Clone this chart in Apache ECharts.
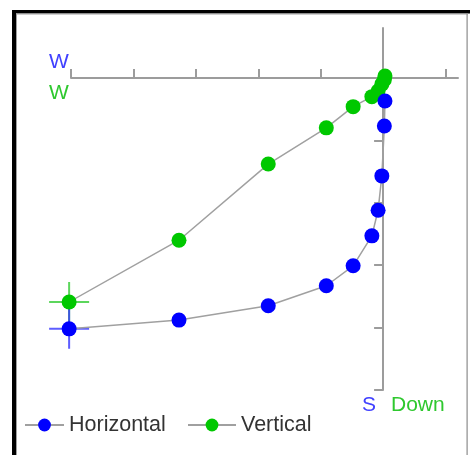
<!DOCTYPE html>
<html>
<head>
<meta charset="utf-8">
<script src="https://cdn.jsdelivr.net/npm/echarts@6/dist/echarts.min.js"></script>
<style>
  html, body { margin: 0; padding: 0; background: #fff; }
  #chart { width: 470px; height: 455px; }
</style>
</head>
<body>
<div id="chart"></div>
<script>
// Demagnetisation steps: shared east-west component, then N-S (horizontal) and up-down (vertical)
const stepEW = [-5.03, -3.27, -1.84, -0.91, -0.48, -0.18, -0.08, -0.02, 0.02, 0.03];
const horizontalNS = [-4.02, -3.88, -3.65, -3.33, -3.01, -2.53, -2.12, -1.57, -0.77, -0.37];
const verticalUD = [-3.59, -2.60, -1.38, -0.80, -0.46, -0.30, -0.21, -0.10, -0.03, 0.03];

// Axis ticks
const xTickValues = [-5, -4, -3, -2, -1, 1];
const yTickValues = [-5, -4, -3, -2, -1];

const seriesNames = ['Horizontal', 'Vertical'];

const BLUE = '#0000ff';
const GREEN = '#00c800';
const AXIS = '#9c9c9c';
const FONT = '"Liberation Sans", Arial, sans-serif';

const pairs = (xs, ys) => xs.map((x, i) => [x, ys[i]]);
const horizontalData = pairs(stepEW, horizontalNS);
const verticalData = pairs(stepEW, verticalUD);

// plus-sign marker used to flag the first step
const PLUS = 'path://M19,0 H21 V19 H40 V21 H21 V40 H19 V21 H0 V19 H19 Z';

const legendText = { fontSize: 21.5, color: '#333333', fontFamily: FONT };

const chart = echarts.init(document.getElementById('chart'), null, { renderer: 'canvas' });

chart.setOption({
  backgroundColor: '#ffffff',
  animation: false,
  textStyle: { fontFamily: FONT },
  grid: { left: 71, top: 28, width: 387, height: 362, containLabel: false },
  xAxis: {
    type: 'value', min: -5, max: 1.2, interval: 1,
    axisLine: { onZero: true, lineStyle: { color: AXIS, width: 2 } },
    axisTick: { show: true, inside: true, length: 9, customValues: xTickValues,
                lineStyle: { color: AXIS, width: 2 } },
    axisLabel: { show: false },
    splitLine: { show: false }
  },
  yAxis: {
    type: 'value', min: -5, max: 0.8, interval: 1,
    axisLine: { onZero: true, lineStyle: { color: AXIS, width: 2 } },
    axisTick: { show: true, inside: false, length: 9, customValues: yTickValues,
                lineStyle: { color: AXIS, width: 2 } },
    axisLabel: { show: false },
    splitLine: { show: false }
  },
  legend: [
    {
      data: [seriesNames[0]],
      left: 24, top: 414, padding: 0,
      itemWidth: 39, itemHeight: 16, itemTextGap: 8,
      textStyle: legendText
    },
    {
      data: [seriesNames[1]],
      left: 187, top: 414, padding: 0,
      itemWidth: 48, itemHeight: 16, itemTextGap: 9,
      textStyle: legendText
    }
  ],
  series: [
    {
      name: 'Vertical-first', type: 'scatter', data: [verticalData[0]], clip: false,
      symbol: PLUS, symbolSize: 40, itemStyle: { color: '#33cc33' }, z: 1, silent: true
    },
    {
      name: 'Horizontal-first', type: 'scatter', data: [horizontalData[0]], clip: false,
      symbol: PLUS, symbolSize: 40, itemStyle: { color: '#3434ff' }, z: 1, silent: true
    },
    {
      name: 'Vertical', type: 'line', data: verticalData, clip: false,
      symbol: 'circle', symbolSize: 15, showAllSymbol: true,
      lineStyle: { color: '#a0a0a0', width: 1.5 },
      itemStyle: { color: GREEN }, z: 2
    },
    {
      name: 'Horizontal', type: 'line', data: horizontalData, clip: false,
      symbol: 'circle', symbolSize: 15, showAllSymbol: true,
      lineStyle: { color: '#a0a0a0', width: 1.5 },
      itemStyle: { color: BLUE }, z: 3
    }
  ],
  graphic: [
    // frame
    { type: 'rect', shape: { x: 12, y: 10, width: 458, height: 3.5 }, style: { fill: '#000' } },
    { type: 'rect', shape: { x: 12, y: 10, width: 4, height: 445 }, style: { fill: '#000' } },
    { type: 'rect', shape: { x: 16, y: 13.5, width: 452, height: 1 }, style: { fill: '#a0a0a0' } },
    { type: 'rect', shape: { x: 16, y: 13.5, width: 1, height: 442 }, style: { fill: '#a0a0a0' } },
    { type: 'rect', shape: { x: 466.5, y: 13.5, width: 1.2, height: 442 }, style: { fill: '#8c8c8c' } },
    // axis direction labels
    { type: 'text', x: 59, y: 62, style: { text: 'W', fill: '#4040ff', font: '21px ' + FONT, textAlign: 'center', textVerticalAlign: 'middle' } },
    { type: 'text', x: 59, y: 93, style: { text: 'W', fill: '#2ec82e', font: '21px ' + FONT, textAlign: 'center', textVerticalAlign: 'middle' } },
    { type: 'text', x: 369, y: 405, style: { text: 'S', fill: '#4040ff', font: '21px ' + FONT, textAlign: 'center', textVerticalAlign: 'middle' } },
    { type: 'text', x: 391, y: 405, style: { text: 'Down', fill: '#2ec82e', font: '21px ' + FONT, textAlign: 'left', textVerticalAlign: 'middle' } }
  ]
});
</script>
</body>
</html>
